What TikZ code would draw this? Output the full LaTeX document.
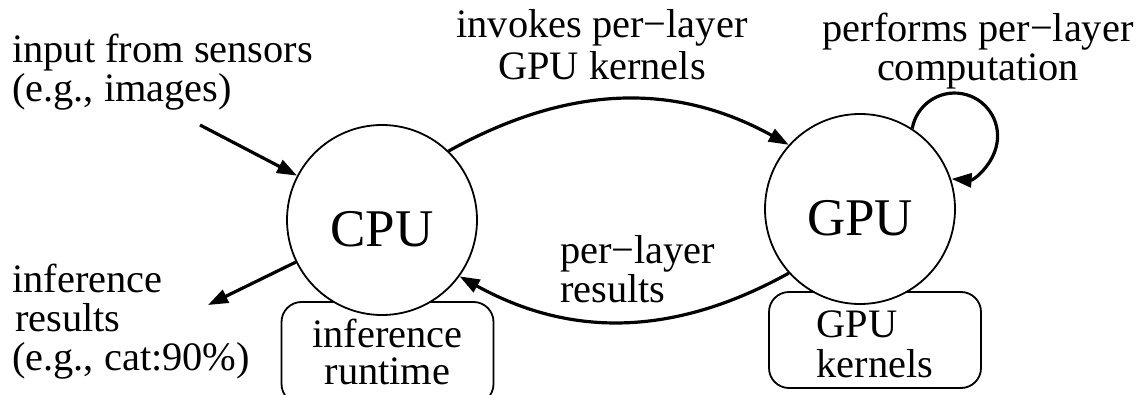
\documentclass[tikz,border=0pt]{standalone}
\usepackage{fontspec}
\setmainfont{Liberation Serif}
\usetikzlibrary{arrows.meta}
\begin{document}
\begin{tikzpicture}[x=1pt,y=1pt,
  proc/.style={circle,draw,line width=1.8pt,fill=white,inner sep=0pt,
    minimum size=190pt,font=\fontsize{53}{60}\selectfont,
    text height=52pt,text depth=0pt},
  soft/.style={draw,line width=1.8pt,rounded corners=20pt,minimum width=212pt,
    inner sep=0pt,text depth=0pt},
  ls/.style={font=\fontsize{40.4}{#1}\selectfont},
  lbl/.style={inner sep=0pt},
  arr/.style={line width=3.2pt,-{Triangle[length=20pt,width=14pt]}}]
\useasboundingbox (0,0) rectangle (1142,394);
\clip (0,0) rectangle (1142,394);
% boxes
\node[soft,ls=35,minimum height=102pt,text height=63pt] (rt) at (387.5,41)
  {\begin{tabular}[b]{@{}c@{}}inference\\runtime\end{tabular}};
\node[soft,ls=37,minimum height=96pt,text height=74pt] (gk) at (875,54)
  {\begin{tabular}[b]{@{}l@{}}GPU\\kernels\end{tabular}};
% processors
\node[proc] (cpu) at (382,174) {CPU};
\node[proc] (gpu) at (860,185) {GPU};
% free ends
\coordinate (src) at (200,269);
\coordinate (snk) at (208,89);
% connectors
\draw[arr] (src) -- (cpu);
\draw[arr] (cpu) -- (snk);
\draw[arr] (cpu.46) to[out=29,in=151] (gpu.138);
\draw[arr] (gpu.222) to[out=209,in=-29] (cpu.324);
\draw[arr] (gpu.57) arc[start angle=170,end angle=-94,radius=43];
% labels
\node[lbl,ls=34,anchor=base west] (tin) at (12,331)
  {\begin{tabular}[t]{@{}l@{}}input from sensors\\(e.g., images)\end{tabular}};
\node[lbl,ls=37.5,anchor=base west] (tout) at (12,102)
  {\begin{tabular}[t]{@{}l@{}}inference\\\hspace{3pt}results\\(e.g., cat:90\%)\end{tabular}};
\node[lbl,ls=42,anchor=base] (tinv) at (602,356)
  {\begin{tabular}[t]{@{}c@{}}invokes per−layer\\GPU kernels\end{tabular}};
\node[lbl,ls=38,anchor=base] (tperf) at (978,352)
  {\begin{tabular}[t]{@{}c@{}}performs per−layer\\computation\end{tabular}};
\node[lbl,ls=37,anchor=base west] (tres) at (560,131)
  {\begin{tabular}[t]{@{}l@{}}per−layer\\results\end{tabular}};
\end{tikzpicture}
\end{document}
